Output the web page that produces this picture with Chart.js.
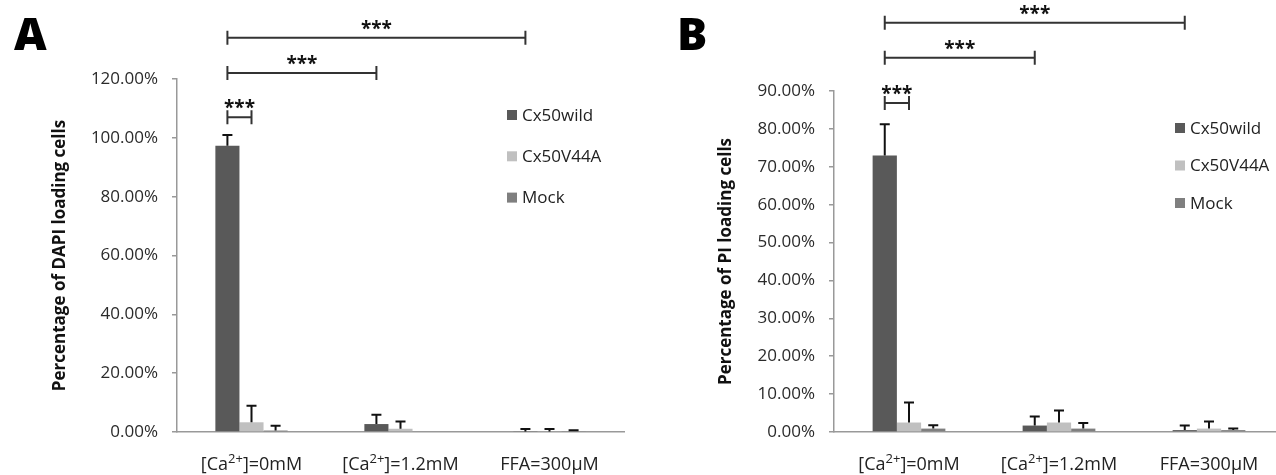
<!DOCTYPE html>
<html>
<head>
<meta charset="utf-8">
<script src="https://cdn.jsdelivr.net/npm/chart.js@4.4.1/dist/chart.umd.min.js"></script>
<style>
  html, body { margin: 0; padding: 0; background: #fff; overflow: hidden; width: 1276px; height: 475px; }
  .panel { position: absolute; top: 0; height: 475px; }
  #panelA { left: 0; width: 640px; }
  #panelB { left: 640px; width: 650px; }
  .tag { position: absolute; top: 10px; font-family: 'Open Sans'; font-weight: 800; font-size: 45px; line-height: 1; color: #000; }
</style>
</head>
<body>
<div class="panel" id="panelA"><canvas id="chartA" width="640" height="475"></canvas></div>
<div class="panel" id="panelB"><canvas id="chartB" width="650" height="475"></canvas></div>
<div class="tag" style="left:14px">A</div>
<div class="tag" style="left:677px">B</div>

<script>
// ===== Data =====
const categories = ['[Ca2+]=0mM', '[Ca2+]=1.2mM', 'FFA=300µM'];
// odd pieces are superscript
const categoryParts = [['[Ca', '2+', ']=0mM'], ['[Ca', '2+', ']=1.2mM'], ['FFA=300µM']];
const seriesNames = ['Cx50wild', 'Cx50V44A', 'Mock'];
const seriesColors = ['#595959', '#c0c0c0', '#7f7f7f'];

// A: DAPI loading (%)
const dapiWild = [97.3, 2.7, 0.2];
const dapiV44A = [3.3, 1.1, 0.2];
const dapiMock = [0.5, 0, 0.3];
const dapiWildErr = [3.7, 3.2, 0.8];
const dapiV44AErr = [5.6, 2.5, 0.8];
const dapiMockErr = [1.6, 0, 0.3];

// B: PI loading (%)
const piWild = [73.0, 1.7, 0.5];
const piV44A = [2.5, 2.5, 0.9];
const piMock = [0.9, 0.9, 0.5];
const piWildErr = [8.2, 2.4, 1.2];
const piV44AErr = [5.3, 3.2, 1.9];
const piMockErr = [0.9, 1.5, 0.4];

// significance brackets: [category, series] -> [category, series], height in axis units
const dapiBrackets = [
  { from: [0, 0], to: [2, 0], level: 134, text: '***' },
  { from: [0, 0], to: [1, 0], level: 122, text: '***' },
  { from: [0, 0], to: [0, 1], level: 107, text: '***' }
];
const piBrackets = [
  { from: [0, 0], to: [2, 0], level: 108, text: '***' },
  { from: [0, 0], to: [1, 0], level: 98.8, text: '***' },
  { from: [0, 0], to: [0, 1], level: 86.8, text: '***' }
];

Chart.defaults.font.family = "'Open Sans', sans-serif";

// ===== Plugins =====
const errorBars = {
  id: 'errorBars',
  afterDatasetsDraw(chart, args, opts) {
    const ctx = chart.ctx;
    const y = chart.scales.y;
    ctx.save();
    ctx.strokeStyle = '#111';
    ctx.lineWidth = 2;
    chart.data.datasets.forEach((ds, i) => {
      const meta = chart.getDatasetMeta(i);
      meta.data.forEach((bar, j) => {
        const e = ds.errors[j];
        if (!e) return;
        const top = y.getPixelForValue(ds.data[j] + e);
        ctx.beginPath();
        ctx.moveTo(bar.x, bar.y);
        ctx.lineTo(bar.x, top);
        ctx.moveTo(bar.x - 5, top);
        ctx.lineTo(bar.x + 5, top);
        ctx.stroke();
      });
    });
    ctx.restore();
  }
};

const brackets = {
  id: 'brackets',
  afterDraw(chart, args, opts) {
    const ctx = chart.ctx;
    const y = chart.scales.y;
    ctx.save();
    ctx.strokeStyle = '#333';
    ctx.fillStyle = '#111';
    ctx.lineWidth = 2;
    ctx.font = "bold 19px 'Open Sans'";
    ctx.textAlign = 'center';
    ctx.textBaseline = 'alphabetic';
    opts.items.forEach(b => {
      const x1 = chart.getDatasetMeta(b.from[1]).data[b.from[0]].x;
      const x2 = chart.getDatasetMeta(b.to[1]).data[b.to[0]].x;
      const py = y.getPixelForValue(b.level);
      ctx.beginPath();
      ctx.moveTo(x1, py); ctx.lineTo(x2, py);
      ctx.moveTo(x1, py - 7); ctx.lineTo(x1, py + 7);
      ctx.moveTo(x2, py - 7); ctx.lineTo(x2, py + 7);
      ctx.stroke();
      ctx.fillText(b.text, (x1 + x2) / 2, py - 3);
    });
    ctx.restore();
  }
};

const catLabels = {
  id: 'catLabels',
  afterDraw(chart) {
    const ctx = chart.ctx;
    const xs = chart.scales.x;
    const base = 470;
    const fonts = ["18px 'Open Sans'", "13px 'Open Sans'"];
    ctx.save();
    ctx.fillStyle = '#222';
    ctx.textBaseline = 'alphabetic';
    ctx.textAlign = 'left';
    categoryParts.forEach((parts, i) => {
      let w = 0;
      parts.forEach((p, k) => { ctx.font = fonts[k % 2]; w += ctx.measureText(p).width; });
      let x = xs.getPixelForValue(i) - w / 2;
      parts.forEach((p, k) => {
        ctx.font = fonts[k % 2];
        ctx.fillText(p, x, k % 2 ? base - 7 : base);
        x += ctx.measureText(p).width;
      });
    });
    ctx.restore();
  }
};

const sideLegend = {
  id: 'sideLegend',
  afterDraw(chart, args, opts) {
    const ctx = chart.ctx;
    ctx.save();
    ctx.font = "17px 'Open Sans'";
    ctx.textBaseline = 'middle';
    ctx.textAlign = 'left';
    chart.data.datasets.forEach((ds, i) => {
      const yy = opts.top + i * opts.gap;
      ctx.fillStyle = ds.backgroundColor;
      ctx.fillRect(opts.x, yy - 5, 10, 10);
      ctx.fillStyle = '#222';
      ctx.fillText(ds.label, opts.x + 15, yy + 1);
    });
    ctx.restore();
  }
};

// ===== Chart builder =====
function makeChart(id, series, errs, cfg) {
  return new Chart(document.getElementById(id), {
    type: 'bar',
    data: {
      labels: categories,
      datasets: series.map((d, i) => ({
        label: seriesNames[i],
        data: d,
        errors: errs[i],
        backgroundColor: seriesColors[i],
        borderWidth: 0,
        barPercentage: 1,
        categoryPercentage: 0.485
      }))
    },
    options: {
      responsive: false,
      animation: false,
      layout: { padding: cfg.padding },
      plugins: {
        legend: { display: false },
        tooltip: { enabled: false },
        brackets: { items: cfg.brackets },
        sideLegend: cfg.legend
      },
      scales: {
        x: {
          grid: { drawOnChartArea: false, drawTicks: false },
          border: { color: '#999', width: 1.5 },
          ticks: { display: false },
          afterFit(s) { s.height = 43; }
        },
        y: {
          min: 0,
          max: cfg.max,
          ticks: {
            stepSize: cfg.step,
            padding: 14,
            color: '#2a2a2a',
            font: { size: 17 },
            callback: v => v.toFixed(2) + '%'
          },
          grid: { drawOnChartArea: false, drawTicks: true, tickLength: 5, color: '#999', lineWidth: 1.5 },
          border: { color: '#999', width: 1.5 },
          title: {
            display: true,
            text: cfg.title,
            color: '#111',
            font: { size: 17, weight: 'bold' },
            padding: { top: 10, bottom: 0 }
          },
          afterFit(s) { s.width = cfg.yWidth; }
        }
      }
    },
    plugins: [errorBars, brackets, catLabels, sideLegend]
  });
}

makeChart('chartA',
  [dapiWild, dapiV44A, dapiMock],
  [dapiWildErr, dapiV44AErr, dapiMockErr],
  {
    max: 120, step: 20,
    title: 'Percentage of DAPI loading cells',
    padding: { left: 40, right: 16, top: 79, bottom: 0 },
    yWidth: 137,
    brackets: dapiBrackets,
    legend: { x: 507, top: 115, gap: 41.3 }
  });

makeChart('chartB',
  [piWild, piV44A, piMock],
  [piWildErr, piV44AErr, piMockErr],
  {
    max: 90, step: 10,
    title: 'Percentage of PI loading cells',
    padding: { left: 66, right: 6, top: 91, bottom: 0 },
    yWidth: 128,
    brackets: piBrackets,
    legend: { x: 535, top: 128, gap: 37.5 }
  });
</script>
</body>
</html>
